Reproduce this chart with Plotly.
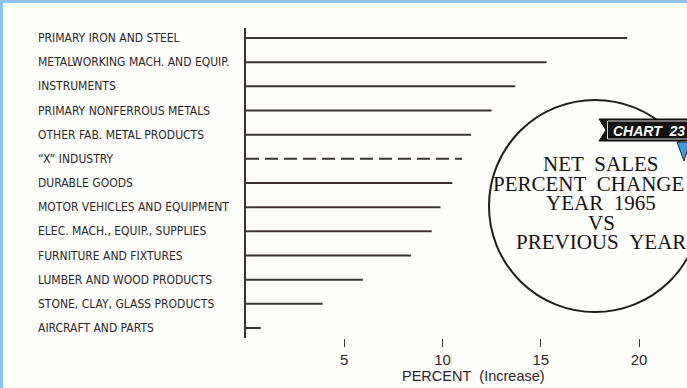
import plotly.graph_objects as go

categories = [
    "PRIMARY IRON AND STEEL",
    "METALWORKING MACH. AND EQUIP.",
    "INSTRUMENTS",
    "PRIMARY NONFERROUS METALS",
    "OTHER FAB. METAL PRODUCTS",
    "\u201cX\u201d INDUSTRY",
    "DURABLE GOODS",
    "MOTOR VEHICLES AND EQUIPMENT",
    "ELEC. MACH., EQUIP., SUPPLIES",
    "FURNITURE AND FIXTURES",
    "LUMBER AND WOOD PRODUCTS",
    "STONE, CLAY, GLASS PRODUCTS",
    "AIRCRAFT AND PARTS",
]
values = [19.4, 15.3, 13.7, 12.5, 11.45, 11.0, 10.5, 9.9, 9.45, 8.4, 5.95, 3.9, 0.75]
dashed = [False, False, False, False, False, True, False, False, False, False, False, False, False]
tick_vals = [5, 10, 15, 20]
tick_text = ["5", "10", "15", "20"]
circle_lines = ["NET\u00a0\u00a0SALES", "PERCENT\u00a0\u00a0CHANGE", "YEAR\u00a0\u00a01965", "VS", "PREVIOUS\u00a0\u00a0YEAR"]
badge_text = "CHART\u00a0\u00a023"

W, H = 687, 388
L, R, T, B = 246, 9, 28, 50
PW, PH = W - L - R, H - T - B

def px(x):
    return (x - L) / PW

def py(y):
    return (H - B - y) / PH

INK = "#3a3436"
TEXT = "#2b2829"

fig = go.Figure()
for cat, v, d in zip(categories, values, dashed):
    fig.add_trace(go.Scatter(
        x=[0, v], y=[cat, cat], mode="lines",
        line=dict(color=INK, width=2, dash="13px,6px" if d else "solid"),
        hoverinfo="skip", showlegend=False,
    ))

annotations = []
for cat in categories:
    annotations.append(dict(
        x=px(36), xref="paper", y=cat, yref="y", text=cat, showarrow=False,
        xanchor="left", yanchor="middle",
        font=dict(family="DejaVu Sans Condensed, Roboto, sans-serif", size=12, color=TEXT),
    ))

annotations.append(dict(
    x=px(473), xref="paper", y=py(376), yref="paper", text="PERCENT\u00a0\u00a0(Increase)",
    showarrow=False, xanchor="center", yanchor="middle",
    font=dict(family="Liberation Sans, Arial, sans-serif", size=14.5, color=TEXT),
))

circ_y = [164, 183.5, 203, 222.5, 242]
circ_x = [601, 588, 601, 601, 601]
for t, xx, yy in zip(circle_lines, circ_x, circ_y):
    annotations.append(dict(
        x=px(xx), xref="paper", y=py(yy), yref="paper", text=t, showarrow=False,
        xanchor="center", yanchor="middle",
        font=dict(family="Liberation Serif, Times New Roman, serif", size=21, color="#141213"),
    ))

shapes = []
# circle
shapes.append(dict(type="circle", xref="paper", yref="paper",
                   x0=px(489), x1=px(701), y0=py(312), y1=py(100),
                   line=dict(color="#1f1d1e", width=2), fillcolor="#fdfdfc", layer="above"))

def path(pts):
    return "M " + " L ".join(f"{px(a):.5f},{py(b):.5f}" for a, b in pts) + " Z"

# badge
shapes.append(dict(type="path", xref="paper", yref="paper",
                   path=path([(599, 119), (690, 119), (690, 141), (599, 141), (606, 130)]),
                   fillcolor="#111111", line=dict(color="#111111", width=1), layer="above"))
shapes.append(dict(type="rect", xref="paper", yref="paper",
                   x0=px(607.5), x1=px(690), y0=py(139), y1=py(121),
                   fillcolor="rgba(0,0,0,0)", line=dict(color="#d8d8d8", width=1), layer="above"))
shapes.append(dict(type="path", xref="paper", yref="paper",
                   path=path([(677, 142), (690, 142), (684, 161)]),
                   fillcolor="#3f9be0", line=dict(color="#1a2a3a", width=1), layer="above"))
# blue border
shapes.append(dict(type="rect", xref="paper", yref="paper",
                   x0=px(0), x1=px(W), y0=py(3), y1=py(0),
                   fillcolor="#8ec4ec", line=dict(width=0), layer="above"))
shapes.append(dict(type="rect", xref="paper", yref="paper",
                   x0=px(0), x1=px(3), y0=py(H), y1=py(0),
                   fillcolor="#8ec4ec", line=dict(width=0), layer="above"))

annotations.append(dict(
    x=px(611), xref="paper", y=py(130.5), yref="paper", text="<b><i>" + badge_text + "</i></b>",
    showarrow=False, xanchor="left", yanchor="middle",
    font=dict(family="Liberation Sans, Arial, sans-serif", size=14, color="#ffffff"),
))

n = len(categories)
pad = 10 / ((PH - 20) / (n - 1))
fig.update_layout(
    width=W, height=H,
    margin=dict(l=L, r=R, t=T, b=B),
    paper_bgcolor="#fdfdfc", plot_bgcolor="#fdfdfc",
    xaxis=dict(range=[0, PW / 19.65], tickvals=tick_vals, ticktext=tick_text,
               ticks="outside", ticklen=8, tickwidth=1.2, tickcolor=INK,
               showgrid=False, zeroline=False, showline=False,
               tickfont=dict(family="Liberation Sans, Arial, sans-serif", size=15, color=TEXT)),
    yaxis=dict(type="category", categoryorder="array", categoryarray=categories,
               range=[n - 1 + pad, -pad], showticklabels=False, ticks="",
               showgrid=False, zeroline=False, showline=True, linecolor=INK, linewidth=2),
    annotations=annotations, shapes=shapes,
)
fig.write_html("out.html")
